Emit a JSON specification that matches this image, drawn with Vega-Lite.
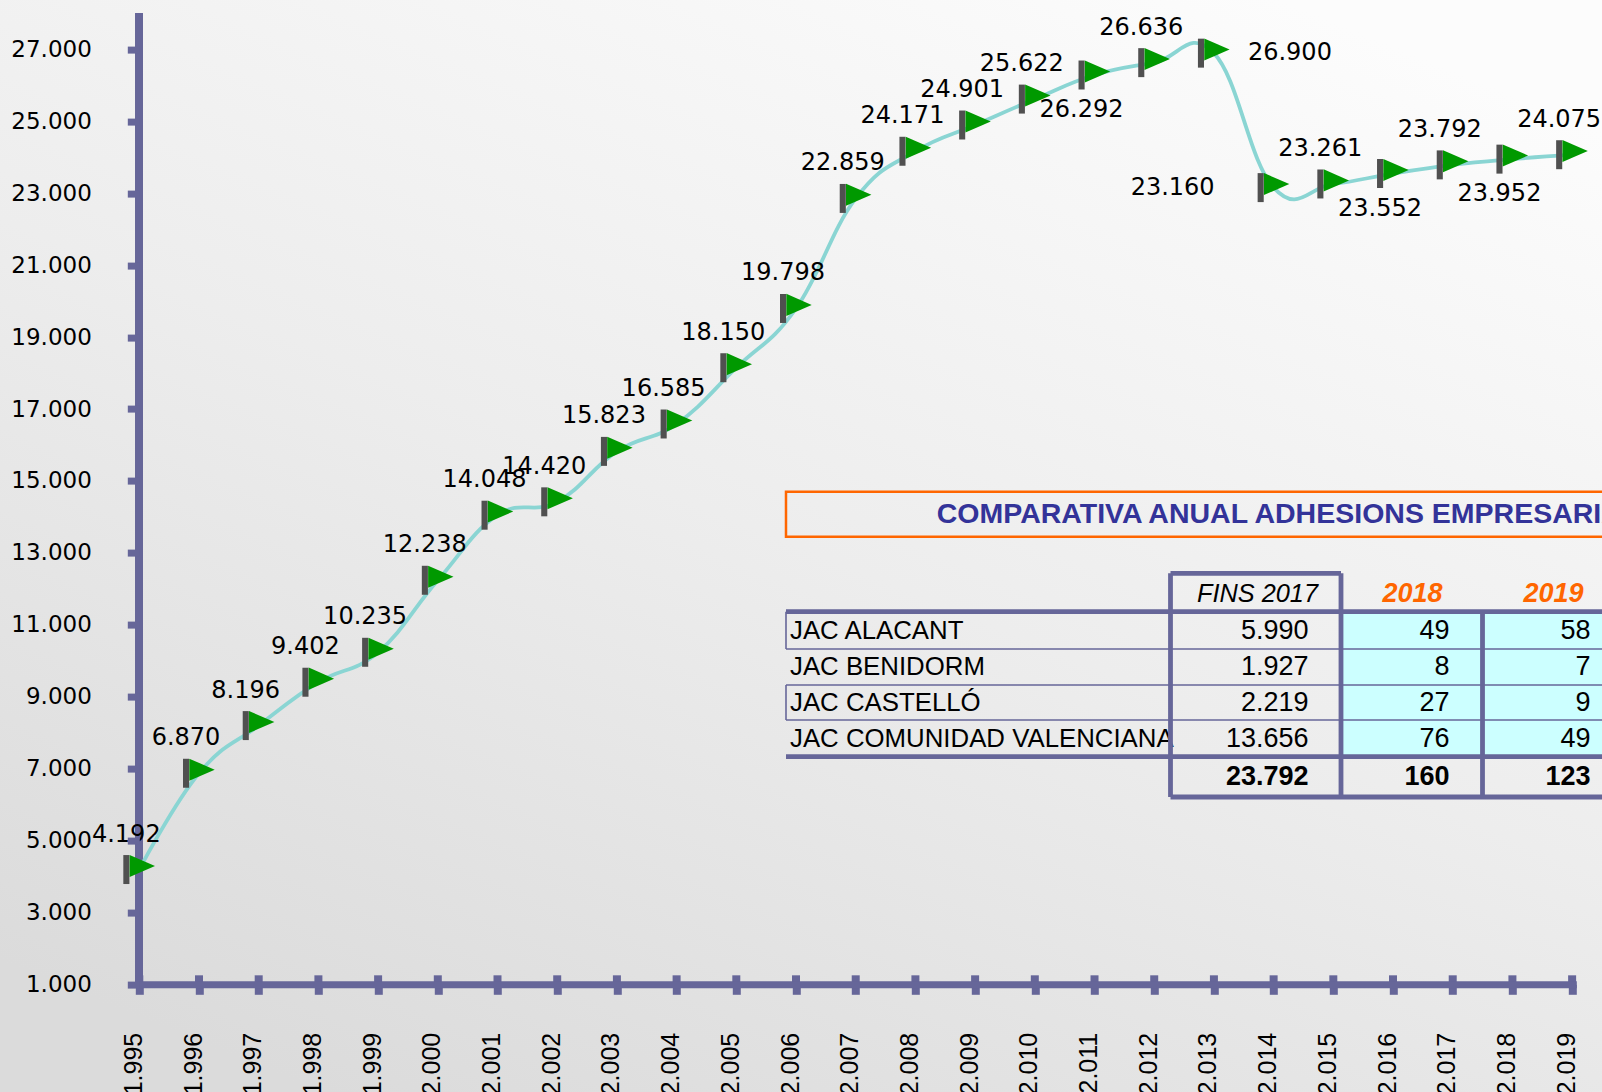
{
"$schema":"https://vega.github.io/schema/vega-lite/v6.json",
"autosize":"none",
"width":1437,"height":970.7,
"padding":{"left":139.3,"top":13.6,"right":25.7,"bottom":107.7},
"background":"#F2F2F2",
"config":{"view":{"stroke":null},"text":{"font":"Liberation Sans"}},
"datasets":{
"serie":[
{"year":1995,"value":4192,"label":"4.192"},{"year":1996,"value":6870,"label":"6.870"},{"year":1997,"value":8196,"label":"8.196"},{"year":1998,"value":9402,"label":"9.402"},{"year":1999,"value":10235,"label":"10.235"},{"year":2000,"value":12238,"label":"12.238"},{"year":2001,"value":14048,"label":"14.048"},{"year":2002,"value":14420,"label":"14.420"},{"year":2003,"value":15823,"label":"15.823"},{"year":2004,"value":16585,"label":"16.585"},{"year":2005,"value":18150,"label":"18.150"},{"year":2006,"value":19798,"label":"19.798"},{"year":2007,"value":22859,"label":"22.859"},{"year":2008,"value":24171,"label":"24.171"},{"year":2009,"value":24901,"label":"24.901"},{"year":2010,"value":25622,"label":"25.622"},{"year":2011,"value":26292,"label":"26.292"},{"year":2012,"value":26636,"label":"26.636"},{"year":2013,"value":26900,"label":"26.900"},{"year":2014,"value":23160,"label":"23.160"},{"year":2015,"value":23261,"label":"23.261"},{"year":2016,"value":23552,"label":"23.552"},{"year":2017,"value":23792,"label":"23.792"},{"year":2018,"value":23952,"label":"23.952"},{"year":2019,"value":24075,"label":"24.075"}],
"minor":[{"m":1995.5},{"m":1996.5},{"m":1997.5},{"m":1998.5},{"m":1999.5},{"m":2000.5},{"m":2001.5},{"m":2002.5},{"m":2003.5},{"m":2004.5},{"m":2005.5},{"m":2006.5},{"m":2007.5},{"m":2008.5},{"m":2009.5},{"m":2010.5},{"m":2011.5},{"m":2012.5},{"m":2013.5},{"m":2014.5},{"m":2015.5},{"m":2016.5},{"m":2017.5},{"m":2018.5}],
"lineas":[
{"c0":1,"c1":2,"r0":2,"r1":2,"g":"gruesa"},
{"c0":1,"c1":1,"r0":2,"r1":8,"g":"gruesa"},
{"c0":2,"c1":2,"r0":2,"r1":8,"g":"gruesa"},
{"c0":3,"c1":3,"r0":3,"r1":8,"g":"gruesa"},
{"c0":0,"c1":4,"r0":3,"r1":3,"g":"gruesa"},
{"c0":0,"c1":4,"r0":4,"r1":4,"g":"fina"},
{"c0":0,"c1":4,"r0":5,"r1":5,"g":"fina"},
{"c0":0,"c1":4,"r0":6,"r1":6,"g":"fina"},
{"c0":0,"c1":4,"r0":7,"r1":7,"g":"gruesa"},
{"c0":1,"c1":4,"r0":8,"r1":8,"g":"gruesa"},
{"c0":0,"c1":0,"r0":3,"r1":4,"g":"fina"},
{"c0":0,"c1":0,"r0":5,"r1":6,"g":"fina"}],
"tabla":[
{"f":"JAC ALACANT","c":"FINS 2017","v":"5.990"},{"f":"JAC ALACANT","c":"2018","v":"49"},{"f":"JAC ALACANT","c":"2019","v":"58"},
{"f":"JAC BENIDORM","c":"FINS 2017","v":"1.927"},{"f":"JAC BENIDORM","c":"2018","v":"8"},{"f":"JAC BENIDORM","c":"2019","v":"7"},
{"f":"JAC CASTELLÓ","c":"FINS 2017","v":"2.219"},{"f":"JAC CASTELLÓ","c":"2018","v":"27"},{"f":"JAC CASTELLÓ","c":"2019","v":"9"},
{"f":"JAC COMUNIDAD VALENCIANA","c":"FINS 2017","v":"13.656"},{"f":"JAC COMUNIDAD VALENCIANA","c":"2018","v":"76"},{"f":"JAC COMUNIDAD VALENCIANA","c":"2019","v":"49"}],
"totales":[{"f":"total","c":"FINS 2017","v":"23.792"},{"f":"total","c":"2018","v":"160"},{"f":"total","c":"2019","v":"123"}],
"filas":[{"f":"JAC ALACANT","c":"JAC"},{"f":"JAC BENIDORM","c":"JAC"},{"f":"JAC CASTELLÓ","c":"JAC"},{"f":"JAC COMUNIDAD VALENCIANA","c":"JAC"}]
},
"resolve":{"scale":{"x":"independent","y":"independent"}},
"layer":[
{"data":{"values":[{}]},"mark":{"type":"rect","fill":{"gradient":"linear","x1":0.2,"y1":1,"x2":0.8,"y2":0,"stops":[{"offset":0,"color":"#DBDBDB"},{"offset":0.5,"color":"#EDEDED"},{"offset":1,"color":"#FCFCFC"}]}},
 "encoding":{"x":{"value":-139.3},"x2":{"value":1462.7},"y":{"value":-13.6},"y2":{"value":1078.4}}},
{"data":{"name":"serie"},
 "encoding":{"x":{"field":"year","type":"quantitative","scale":{"domain":[1995,2019.07],"nice":false,"zero":false},
   "axis":{"title":null,"zindex":1,"values":[1995,1996,1997,1998,1999,2000,2001,2002,2003,2004,2005,2006,2007,2008,2009,2010,2011,2012,2013,2014,2015,2016,2017,2018,2019],"labelExpr":"replace(format(datum.value,','),',','.')","grid":false,"domainColor":"#666699","domainWidth":7,"tickColor":"#666699","tickWidth":8,"tickSize":10,"labelFont":"Liberation Sans","labelFontSize":25,"labelColor":"#000000","labelAngle":-90,"labelAlign":"right","labelBaseline":"middle","labelPadding":38,"labelOffset":-6,"labelOverlap":false,"labelBound":false,"labelFlush":false}},
  "y":{"field":"value","type":"quantitative","scale":{"domain":[1000,28000],"nice":false,"zero":false},
   "axis":{"title":null,"zindex":1,"domain":false,"values":[1000,3000,5000,7000,9000,11000,13000,15000,17000,19000,21000,23000,25000,27000],"labelExpr":"replace(format(datum.value,','),',','.')","grid":false,"tickColor":"#666699","tickWidth":7,"tickSize":12,"labelFont":"DejaVu Sans","labelFontSize":23,"labelColor":"#000000","labelPadding":36,"labelOverlap":false,"labelBound":false}}},
 "layer":[
  {"mark":{"type":"rule","stroke":"#666699","strokeWidth":7},"encoding":{"x":{"datum":1995},"y":{"datum":1000},"y2":{"datum":28000}}},
  {"mark":{"type":"line","interpolate":"cardinal","tension":-0.25,"stroke":"#8AD5D3","strokeWidth":3.8}},
  {"mark":{"type":"rule","stroke":"#666699","strokeWidth":8},"encoding":{"y":{"datum":1000},"y2":{"datum":1250}}},
  {"data":{"name":"minor"},"mark":{"type":"rule","stroke":"#666699","strokeWidth":8},"encoding":{"x":{"field":"m","type":"quantitative"},"y":{"datum":1000},"y2":{"datum":1200}}},
  {"mark":{"type":"point","filled":true,"size":3600,"opacity":1,"fill":"#505050","strokeWidth":0,"shape":"M -0.533 -0.483 L -0.33 -0.483 L -0.33 0.483 L -0.533 0.483 Z"}},
  {"mark":{"type":"point","filled":true,"size":3600,"opacity":1,"fill":"#009900","strokeWidth":0,"shape":"M -0.323 -0.487 L 0.523 -0.12 L -0.323 0.247 Z"}},
  {"transform":[{"filter":{"not":{"field":"year","oneOf":[2011,2013,2014,2016,2018]}}}],"mark":{"type":"text","font":"DejaVu Sans","fontSize":24,"color":"#000000","dx":-13,"dy":-35,"baseline":"middle"},"encoding":{"text":{"field":"label"}}},
  {"transform":[{"filter":{"field":"year","oneOf":[2011,2016,2018]}}],"mark":{"type":"text","font":"DejaVu Sans","fontSize":24,"color":"#000000","dx":-13,"dy":35,"baseline":"middle"},"encoding":{"text":{"field":"label"}}},
  {"transform":[{"filter":{"field":"year","oneOf":[2013]}}],"mark":{"type":"text","font":"DejaVu Sans","fontSize":24,"color":"#000000","dx":76,"dy":0,"baseline":"middle"},"encoding":{"text":{"field":"label"}}},
  {"transform":[{"filter":{"field":"year","oneOf":[2014]}}],"mark":{"type":"text","font":"DejaVu Sans","fontSize":24,"color":"#000000","dx":-101,"dy":0,"baseline":"middle"},"encoding":{"text":{"field":"label"}}}
 ]},
{"data":{"values":[{"c0":2,"c1":4,"r0":3,"r1":7,"t":"celdas"},{"c0":0,"c1":4,"r0":0,"r1":1,"t":"titulo"}]},
 "encoding":{"x":{"field":"c0","type":"quantitative","axis":null,"scale":{"domain":[0,1,2,3,4],"range":[646.7,1031.2,1201.7,1343.2,1484.7]}},"x2":{"field":"c1"},
  "y":{"field":"r0","type":"quantitative","axis":null,"scale":{"domain":[0,1,2,3,4,5,6,7,8],"range":[478.1,523.1,559.7,598.1,635.4,671.4,706.4,743.1,783.4]}},"y2":{"field":"r1"}},
 "layer":[
  {"transform":[{"filter":"datum.t==='celdas'"}],"mark":{"type":"rect","fill":"#CCFFFF"}},
  {"transform":[{"filter":"datum.t==='titulo'"}],"mark":{"type":"rect","fill":"transparent","stroke":"#FF6600","strokeWidth":2.5}},
  {"transform":[{"filter":"datum.t==='titulo'"},{"calculate":"'COMPARATIVA ANUAL ADHESIONS EMPRESARIALES'","as":"tt"}],"mark":{"type":"text","font":"Liberation Sans","fontWeight":"bold","fontSize":28.5,"color":"#333399","baseline":"middle","align":"center","dx":-34},
   "encoding":{"x":{"datum":2},"y":{"datum":0.5},"x2":null,"y2":null,"text":{"field":"tt"}}}
 ]},
{"encoding":{"x":{"field":"c","type":"nominal","axis":null,"scale":{"type":"point","padding":0,"domain":["JAC","FINS 2017","2018","2019"],"range":[1028.2,1451.2]}},
  "y":{"field":"f","type":"nominal","axis":null,"scale":{"type":"point","padding":0,"domain":["cap","JAC ALACANT","JAC BENIDORM","JAC CASTELLÓ","JAC COMUNIDAD VALENCIANA","total"],"range":[582,761]}}},
 "layer":[
  {"data":{"name":"filas"},"mark":{"type":"text","font":"Liberation Sans","fontSize":25.8,"color":"#000000","align":"left","baseline":"middle","dx":-377.5},"encoding":{"text":{"field":"f"}}},
  {"data":{"name":"tabla"},"mark":{"type":"text","font":"Liberation Sans","fontSize":27,"color":"#000000","align":"right","baseline":"middle"},"encoding":{"text":{"field":"v"}}},
  {"data":{"name":"totales"},"mark":{"type":"text","font":"Liberation Sans","fontWeight":"bold","fontSize":27,"color":"#000000","align":"right","baseline":"middle","dy":2},"encoding":{"text":{"field":"v"}}},
  {"data":{"values":[{"f":"cap","c":"FINS 2017"}]},"mark":{"type":"text","font":"Liberation Sans","fontStyle":"italic","fontSize":25.3,"color":"#000000","align":"center","baseline":"middle","dx":-51,"dy":-2},"encoding":{"text":{"field":"c"}}},
  {"data":{"values":[{"f":"cap","c":"2018"},{"f":"cap","c":"2019"}]},"mark":{"type":"text","font":"Liberation Sans","fontStyle":"italic","fontWeight":"bold","fontSize":27,"color":"#FF6600","align":"center","baseline":"middle","dx":-37,"dy":-2},"encoding":{"text":{"field":"c"}}}
 ]},
{"data":{"name":"lineas"},
 "mark":{"type":"rule","stroke":"#666699"},
 "encoding":{"x":{"field":"c0","type":"quantitative","axis":null,"scale":{"domain":[0,1,2,3,4],"range":[646.7,1031.2,1201.7,1343.2,1484.7]}},"x2":{"field":"c1"},
  "y":{"field":"r0","type":"quantitative","axis":null,"scale":{"domain":[0,1,2,3,4,5,6,7,8],"range":[478.1,523.1,559.7,598.1,635.4,671.4,706.4,743.1,783.4]}},"y2":{"field":"r1"},
  "strokeWidth":{"field":"g","type":"nominal","legend":null,"scale":{"domain":["fina","gruesa"],"range":[1.6,4.8]}}}}
]
}
